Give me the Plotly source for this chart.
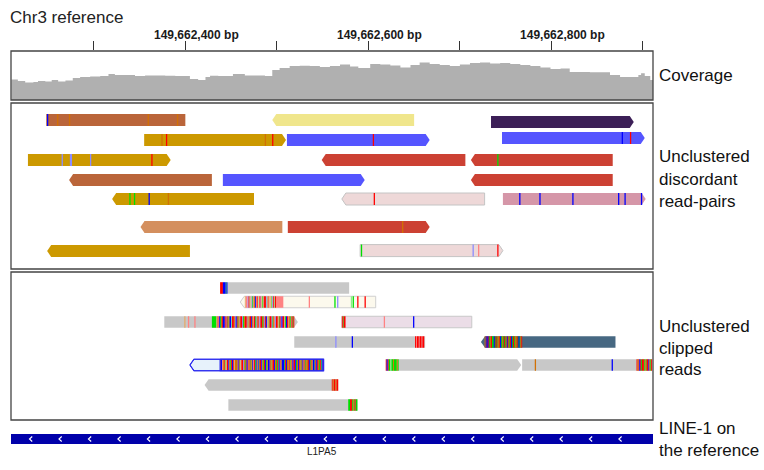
import plotly.graph_objects as go
import numpy as np

W, H = 764, 470
BASE = 149662000          # all positions below are bp offsets from this coordinate
VIEW = (209.5, 911.0)     # visible window

# ---- coverage track ----
cov_pos = [210, 217, 225, 234, 239, 247, 254, 261, 269, 277, 285, 296, 307, 316, 323,
           334, 345, 356, 367, 378, 389, 396, 405, 414, 422, 427, 436, 443, 452, 465,
           476, 487, 495, 503, 514, 525, 536, 547, 558, 569, 580, 589, 602, 613, 624,
           635, 646, 656, 667, 678, 689, 700, 711, 722, 733, 744, 755, 766, 777, 788,
           799, 810, 820, 831, 842, 853, 864, 875, 886, 895, 898, 902, 908, 911]
cov_depth = [20.5, 19, 17.5, 18, 19, 18.5, 20, 18.5, 19.5, 22, 23, 23.5, 24, 26, 25,
             25, 24, 24.5, 24.5, 24.3, 24, 24, 21, 20, 23, 24.3, 24, 24, 26, 24.5,
             24.5, 24, 30, 32, 34, 34.3, 34, 33, 34, 35.5, 33.5, 32, 36, 35.5, 34.5,
             32.5, 35, 37.5, 36, 35, 34, 35.5, 37, 37.5, 36.5, 37, 36, 35, 34, 32.5,
             31, 31.5, 28, 28, 27.7, 27.7, 25, 23, 23, 25, 26.7, 24, 20, 18.3]

tick_pos = [300, 400, 500, 600, 700, 800, 900]
tick_text = ["", "149,662,400 bp", "", "149,662,600 bp", "", "149,662,800 bp", ""]

# ---- unclustered discordant read-pairs ----
disc_start = [248, 495, 734, 355, 511, 746, 228, 549, 712, 273, 441, 712, 320, 571, 747, 351, 512, 249, 591]
disc_end = [400, 650, 890, 510, 667, 902, 384, 706, 867, 429, 596, 867, 475, 727, 903, 506, 667, 405, 747]
disc_strand = ['.', '-', '+', '+', '+', '+', '+', '-', '-', '-', '+', '-', '-', '-', '+', '-', '+', '-', '+']
disc_lane = [0.85, 0.85, 0.95, 1.85, 1.85, 1.75, 2.85, 2.85, 2.85, 3.85, 3.85, 3.85,
             4.8, 4.8, 4.8, 6.2, 6.2, 7.4, 7.38]
disc_group = ['sienna', 'khaki', 'plum', 'gold', 'blue', 'blue', 'gold', 'red', 'red',
              'sienna', 'blue', 'red', 'gold', 'rose', 'pink', 'sand', 'red', 'gold', 'rose']
disc_mm = [
    [(249, 'C'), (260, 'G'), (273, 'G'), (359, 'G'), (391, 'G')],
    [],
    [],
    [(374, 'G'), (379, 'T'), (487, 'G'), (495, 'T')],
    [(605, 'T')],
    [(877, 'C'), (886, 'T')],
    [(265, 'c'), (274, 'c'), (275, 'c'), (296, 'c'), (363, 'T')],
    [],
    [(741, 'A')],
    [],
    [],
    [],
    [(339, 'A'), (344, 'A'), (360, 'C'), (381, 'G')],
    [(606, 'T')],
    [(765, 'C'), (787, 'C'), (823, 'C'), (873, 'C'), (880, 'C'), (898, 'C')],
    [],
    [(637, 'G')],
    [],
    [(592, 'A'), (714, 'c'), (720, 't'), (741, 'T')],
]

# ---- unclustered clipped reads ----
clip_start = [438, 460, 377, 571, 519, 723, 405, 619, 768, 421, 447]
clip_end = [579, 608, 523, 713, 662, 870, 551, 767, 910, 567, 588]
clip_strand = ['.', '-', '+', '.', '.', '-', '-', '+', '.', '-', '.']
clip_lane = [0.8, 1.5, 2.5, 2.5, 3.5, 3.5, 4.65, 4.65, 4.65, 5.65, 6.65]
clip_group = ['grey', 'cream', 'grey', 'lilac', 'grey', 'slate', 'ice', 'grey', 'grey', 'grey', 'grey']
soft_start = [438, 465, 429, 571, 651, 727, 438, 619, 893, 560, 578]
soft_seq = [
    "TTTCCCAC",
    "gttcTagcAtGCtTatTcgAtTTcaTgtgAcTaTtttttttt",
    "AAAAAgTtCAGTCCTcTAGCCaTTGcCTAGtTTcAGTTcGaTTCGtTAcGTtcTTAGcTCtaGTTcAGtcTTgATcCTTgACTtGAtTAT",
    "TATT",
    "TtTTtTTtTT",
    "GCTCTAGTAACATAGGTCAGATAGCTGATCATAGGTACAGT",
    "TCtGTAgTTCGATCTgGGGCTAgTTcGATCTGTAGCtTACGCATTCGATCAGCCTAGTTCGATACTGCCCATCGGTAGTCTTCAGCTGATCGTAGGTCATGCCATCTGATACT",
    "TCTAAaAAGAAAGA",
    "TGTCTATTAGATTCGAT",
    "TGTTGTT",
    "AATTAGATAA",
]
clip_mm = [
    [],
    [(535, 't'), (563, 'A'), (566, 'c'), (581, 'a'), (583, 'A'), (588, 'T'), (596, 'T')],
    [(399, 'g'), (403, 't'), (410, 't')],
    [(617, 't'), (649, 'C')],
    [(564, 'c'), (582, 'C')],
    [],
    [],
    [],
    [(782, 'G'), (866, 'C')],
    [],
    [],
]

# ---- LINE-1 annotation (extends past both edges of the window) ----
l1_start, l1_end = -2, 1100
l1_name = "L1PA5"

# ---- styling ----
READ_FILL = {
    'sienna': '#BA653A', 'khaki': '#F0E68C', 'plum': '#3C1F57', 'gold': '#CC9900',
    'blue': '#5555FF', 'red': '#CC4133', 'rose': '#EED8D8', 'pink': '#D596A8',
    'sand': '#D48F5E', 'grey': '#C8C8C8', 'cream': '#FCF9ED', 'lilac': '#EBDDE7',
    'slate': '#476882', 'ice': '#E7F2FB',
}
READ_EDGE = {'rose': '#C4C4C4', 'cream': '#CFCFCF', 'lilac': '#C8C8C8', 'ice': '#2A2AF0'}
BASE_COL = {'A': '#00E000', 'C': '#0000FF', 'G': '#D17105', 'T': '#FF0000',
            'a': '#8AF08A', 'c': '#8C8CFF', 'g': '#E5AA6A', 't': '#FF8282'}
COV_COL = '#B0B0B0'
L1_COL = '#0000AA'
FONT = 'Liberation Sans, Arial, sans-serif'
TIP = 4.4        # arrow head length, bp
MARK_W = 1.4     # drawn width of an isolated mismatch, bp
DISC_H = 0.6     # read height in lane units
CLIP_H = 0.575


def read_outline(s, e, strand, lane, h):
    top, bot = lane - h / 2, lane + h / 2
    if strand == '+':
        xs = [s, e - TIP, e, e - TIP, s, s]
        ys = [top, top, lane, bot, bot, top]
    elif strand == '-':
        xs = [s, s + TIP, e, e, s + TIP, s]
        ys = [lane, top, top, bot, bot, lane]
    else:
        xs = [s, e, e, s, s]
        ys = [top, top, bot, bot, top]
    return [BASE + v for v in xs], ys


fig = go.Figure()

# coverage area
fig.add_trace(go.Scatter(
    x=[BASE + p for p in cov_pos], y=cov_depth, mode='lines',
    line=dict(width=0, shape='hv', color=COV_COL), fill='tozeroy', fillcolor=COV_COL,
    xaxis='x', yaxis='y', hoverinfo='skip'))


def add_reads(starts, ends, strands, lanes, groups, axis, h):
    for s, e, st, ln, g in zip(starts, ends, strands, lanes, groups):
        xs, ys = read_outline(s, e, st, ln, h)
        edge = READ_EDGE.get(g)
        fig.add_trace(go.Scatter(
            x=xs, y=ys, mode='lines', fill='toself', fillcolor=READ_FILL[g],
            line=dict(color=edge if edge else READ_FILL[g], width=1 if edge else 0),
            xaxis='x', yaxis=axis, hoverinfo='skip'))


add_reads(disc_start, disc_end, disc_strand, disc_lane, disc_group, 'y2', DISC_H)
add_reads(clip_start, clip_end, clip_strand, clip_lane, clip_group, 'y3', CLIP_H)

# base-coloured stripes, gathered per (axis, colour)
stripes = {}


def add_stripe(axis, x0, x1, lane, h, base):
    key = (axis, BASE_COL[base])
    xs, ys = stripes.setdefault(key, ([], []))
    top, bot = lane - h / 2, lane + h / 2
    xs += [BASE + x0, BASE + x1, BASE + x1, BASE + x0, BASE + x0, None]
    ys += [top, top, bot, bot, top, None]


for mms, ln in zip(disc_mm, disc_lane):
    for p, b in mms:
        add_stripe('y2', p + 0.5 - MARK_W / 2, p + 0.5 + MARK_W / 2, ln, DISC_H, b)
for mms, ln in zip(clip_mm, clip_lane):
    for p, b in mms:
        add_stripe('y3', p + 0.5 - MARK_W / 2, p + 0.5 + MARK_W / 2, ln, CLIP_H, b)
for s0, seq, ln in zip(soft_start, soft_seq, clip_lane):
    for i, b in enumerate(seq):
        add_stripe('y3', s0 + i, s0 + i + 1.05, ln, CLIP_H, b)

for (axis, col), (xs, ys) in stripes.items():
    fig.add_trace(go.Scatter(
        x=xs, y=ys, mode='lines', fill='toself', fillcolor=col,
        line=dict(width=0, color=col), xaxis='x', yaxis=axis, hoverinfo='skip'))

# outline around the soft-clipped block of the outlined read
for g, s0, seq, ln, s, e, st in zip(clip_group, soft_start, soft_seq, clip_lane,
                                    clip_start, clip_end, clip_strand):
    if g == 'ice':
        x0, x1 = s0, s0 + len(seq)
        top, bot = ln - CLIP_H / 2, ln + CLIP_H / 2
        fig.add_trace(go.Scatter(
            x=[BASE + x0, BASE + x1, BASE + x1, BASE + x0, BASE + x0],
            y=[top, top, bot, bot, top], mode='lines',
            line=dict(color=READ_EDGE[g], width=1.2), xaxis='x', yaxis='y3', hoverinfo='skip'))
        xs, ys = read_outline(s, e, st, ln, CLIP_H)
        fig.add_trace(go.Scatter(x=xs, y=ys, mode='lines',
                                 line=dict(color=READ_EDGE[g], width=1.2),
                                 xaxis='x', yaxis='y3', hoverinfo='skip'))

# LINE-1 bar with strand chevrons
fig.add_trace(go.Scatter(
    x=[BASE + l1_start, BASE + l1_end, BASE + l1_end, BASE + l1_start, BASE + l1_start],
    y=[0, 0, 1, 1, 0], mode='lines', fill='toself', fillcolor=L1_COL,
    line=dict(width=0, color=L1_COL), xaxis='x', yaxis='y4', hoverinfo='skip'))
chev_x, chev_y = [], []
for c in np.arange(231, VIEW[1] - 20, 32.2):
    chev_x += [BASE + c + 1.7, BASE + c - 1.3, BASE + c + 1.7, None]
    chev_y += [0.75, 0.5, 0.25, None]
fig.add_trace(go.Scatter(x=chev_x, y=chev_y, mode='lines',
                         line=dict(color='white', width=1.1),
                         xaxis='x', yaxis='y4', hoverinfo='skip'))


def py(pix):
    return 1 - pix / H


fig.update_layout(
    width=W, height=H, margin=dict(l=0, r=0, t=0, b=0),
    paper_bgcolor='white', plot_bgcolor='white', showlegend=False,
    xaxis=dict(domain=[11 / W, 653 / W], range=[BASE + VIEW[0], BASE + VIEW[1]],
               side='top', anchor='y', tickmode='array',
               tickvals=[BASE + t for t in tick_pos], ticktext=tick_text,
               ticks='outside', ticklen=9, tickwidth=1, tickcolor='#333',
               ticklabelshift=11, ticklabelstandoff=-3,
               showgrid=False, zeroline=False, showline=False, fixedrange=True,
               tickfont=dict(family=FONT, size=12, color='#1a1a1a', weight='bold')),
    yaxis=dict(domain=[py(100), py(51)], range=[0, 49], visible=False, anchor='x', fixedrange=True),
    yaxis2=dict(domain=[py(269), py(103)], range=[8.3, 0], visible=False, anchor='x', fixedrange=True),
    yaxis3=dict(domain=[py(420), py(272)], range=[7.4, 0], visible=False, anchor='x', fixedrange=True),
    yaxis4=dict(domain=[py(444), py(434)], range=[0, 1], visible=False, anchor='x', fixedrange=True),
)

for yr in ['y domain', 'y2 domain', 'y3 domain']:
    fig.add_shape(type='rect', xref='x domain', yref=yr, x0=0, x1=1, y0=0, y1=1,
                  line=dict(color='#444', width=1.3), layer='above')

ann = [dict(text='Chr3 reference', x=8 / W, y=py(17), xanchor='left',
            font=dict(family=FONT, size=17, color='#222'))]
for txt, ypix in [('Coverage', 75.5), ('Unclustered', 156.5), ('discordant', 179),
                  ('read-pairs', 201.5), ('Unclustered', 326), ('clipped', 348),
                  ('reads', 369), ('LINE-1 on', 428.5), ('the reference', 450.5)]:
    ann.append(dict(text=txt, x=657 / W, y=py(ypix), xanchor='left',
                    font=dict(family=FONT, size=17, color='#111')))
for a in ann:
    a.update(xref='paper', yref='paper', yanchor='middle', showarrow=False)
    fig.add_annotation(**a)
fig.add_annotation(text=l1_name, x=BASE + (l1_start + l1_end) / 2, xref='x',
                   y=py(451), yref='paper', yanchor='middle', showarrow=False,
                   font=dict(family=FONT, size=10, color='#222'))

fig.write_html("out.html", config={'displayModeBar': False})
